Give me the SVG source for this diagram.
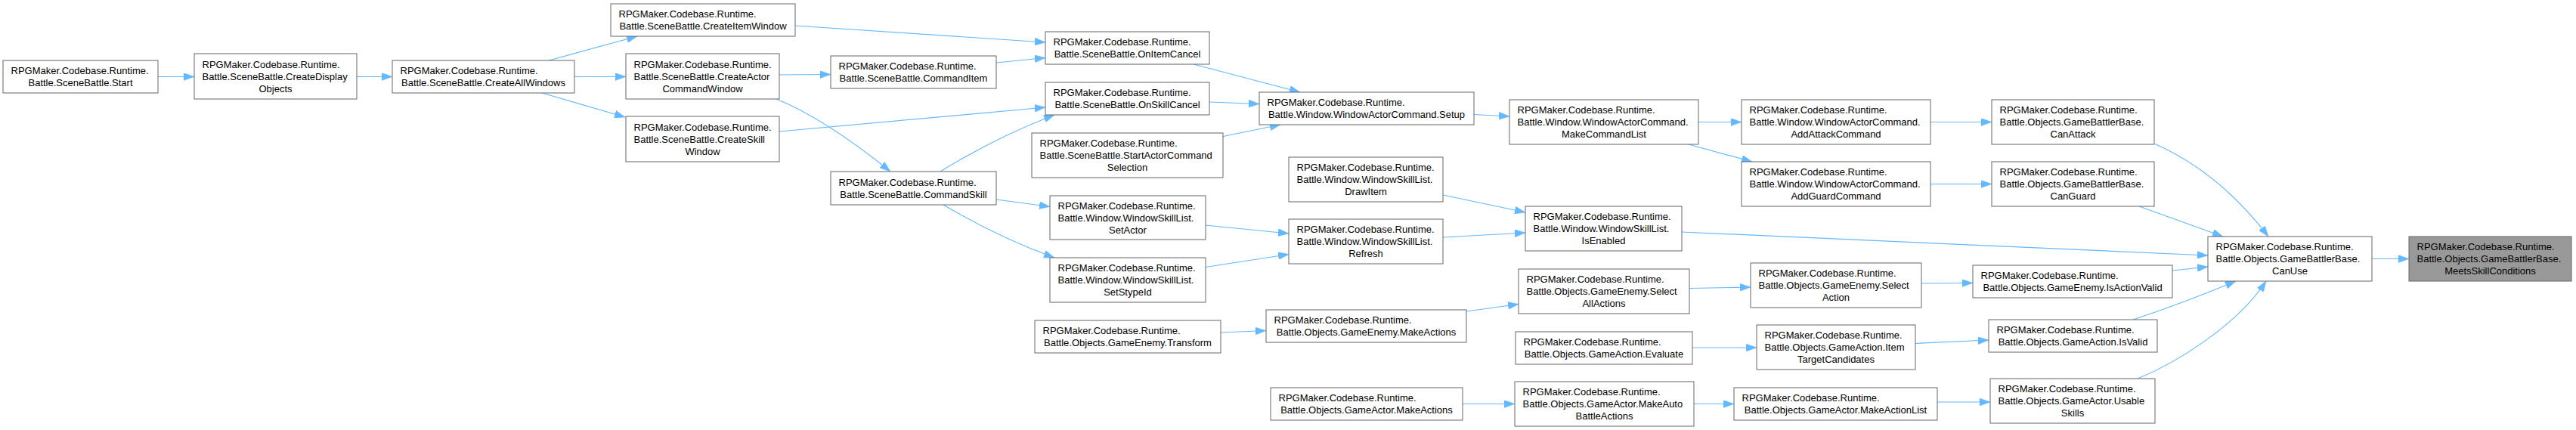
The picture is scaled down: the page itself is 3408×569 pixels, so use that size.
<svg xmlns="http://www.w3.org/2000/svg" width="3408" height="569" viewBox="0 0 3408 569">
<style>
.n rect{fill:#ffffff;stroke:#666666;stroke-width:1}
.hl rect{fill:#999999;stroke:#666666;stroke-width:1}
text{font-family:"Liberation Sans",Arial,sans-serif;font-size:13px;fill:#000000}
.c{text-anchor:middle}
.e path{fill:none;stroke:#63b8ff;stroke-width:1.2;marker-end:url(#a)}
</style>
<defs>
<marker id="a" markerUnits="userSpaceOnUse" markerWidth="14" markerHeight="10" refX="14" refY="5" orient="auto">
<path d="M0,0 L14,5 L0,10 z" fill="#63b8ff" stroke="#63b8ff" stroke-width="0.5"/>
</marker>
</defs>
<rect x="0" y="0" width="3408" height="569" fill="#ffffff"/>

<g class="e" id="edges">
<path d="M209,101.5 L257,101.5"/>
<path d="M472,101.5 L519,101.5"/>
<path d="M726,80 L843,48"/>
<path d="M760,101.5 L828,101.5"/>
<path d="M717,123 L827,155"/>
<path d="M1052,34 L1383,56"/>
<path d="M1031,99 L1099,98.5"/>
<path d="M1027,131 Q1091.5,157 1178,227"/>
<path d="M1031,174 L1383,142"/>
<path d="M1318,83 L1383,76.5"/>
<path d="M1244,227 Q1317,182 1395,152"/>
<path d="M1318,264 L1389,273.5"/>
<path d="M1248,271 Q1321,314 1395,341"/>
<path d="M1579,85 L1720,122"/>
<path d="M1600,135 L1666,137.5"/>
<path d="M1618,180.5 L1694,165"/>
<path d="M1950,151.5 L1997,154"/>
<path d="M2247,161.5 L2304,161.5"/>
<path d="M2234,191 L2318,214"/>
<path d="M2554,161.5 L2635,161.5"/>
<path d="M2554,243.5 L2635,243.5"/>
<path d="M2851,190.5 Q2936,228 3001,313"/>
<path d="M2830,273 L2941,313"/>
<path d="M1595,298 L1705,309"/>
<path d="M1595,353.5 L1705,336.5"/>
<path d="M1909,258 L2018,281"/>
<path d="M1909,314 L2018,308"/>
<path d="M2225,307 L2921,338"/>
<path d="M1615,440 L1675,437.5"/>
<path d="M1940,412 L2009,402.5"/>
<path d="M2235,381.5 L2316,380"/>
<path d="M2542,375 L2610,374.5"/>
<path d="M2874,358 L2921,353"/>
<path d="M2239,460 L2324,460"/>
<path d="M2534,454.5 L2631,450"/>
<path d="M2822,423 Q2886,402 2958,372"/>
<path d="M1935,534.5 L2004,534.5"/>
<path d="M2241,534.5 L2294,534.5"/>
<path d="M2563,532 L2633,532"/>
<path d="M2828,501 C2880,480 2960,430 2998,372"/>
<path d="M3138,342.5 L3187,342.5"/>
</g>

<g id="n_start" class="n"><rect x="4" y="80" width="205" height="43"/><text><tspan x="14.5" y="98">RPGMaker.Codebase.Runtime.</tspan><tspan class="c" x="106.5" y="114">Battle.SceneBattle.Start</tspan></text></g>
<g id="n_createdisplayobjects" class="n"><rect x="257" y="71" width="215" height="60"/><text><tspan x="267.5" y="89.5">RPGMaker.Codebase.Runtime.</tspan><tspan x="267.5" y="105.5">Battle.SceneBattle.CreateDisplay</tspan><tspan class="c" x="364.5" y="121.5">Objects</tspan></text></g>
<g id="n_createallwindows" class="n"><rect x="519" y="80" width="241" height="43"/><text><tspan x="529.5" y="98">RPGMaker.Codebase.Runtime.</tspan><tspan class="c" x="639.5" y="114">Battle.SceneBattle.CreateAllWindows</tspan></text></g>
<g id="n_createitemwindow" class="n"><rect x="808" y="5" width="244" height="43"/><text><tspan x="818.5" y="23">RPGMaker.Codebase.Runtime.</tspan><tspan class="c" x="930" y="39">Battle.SceneBattle.CreateItemWindow</tspan></text></g>
<g id="n_createactorcommandwindow" class="n"><rect x="828" y="71" width="203" height="60"/><text><tspan x="838.5" y="89.5">RPGMaker.Codebase.Runtime.</tspan><tspan x="838.5" y="105.5">Battle.SceneBattle.CreateActor</tspan><tspan class="c" x="929.5" y="121.5">CommandWindow</tspan></text></g>
<g id="n_createskillwindow" class="n"><rect x="828" y="154" width="203" height="60"/><text><tspan x="838.5" y="172.5">RPGMaker.Codebase.Runtime.</tspan><tspan x="838.5" y="188.5">Battle.SceneBattle.CreateSkill</tspan><tspan class="c" x="929.5" y="204.5">Window</tspan></text></g>
<g id="n_commanditem" class="n"><rect x="1099" y="74" width="219" height="43"/><text><tspan x="1109.5" y="92">RPGMaker.Codebase.Runtime.</tspan><tspan class="c" x="1208.5" y="108">Battle.SceneBattle.CommandItem</tspan></text></g>
<g id="n_commandskill" class="n"><rect x="1099" y="227" width="219" height="44"/><text><tspan x="1109.5" y="245.5">RPGMaker.Codebase.Runtime.</tspan><tspan class="c" x="1208.5" y="261.5">Battle.SceneBattle.CommandSkill</tspan></text></g>
<g id="n_onitemcancel" class="n"><rect x="1383" y="42" width="217" height="43"/><text><tspan x="1393.5" y="60">RPGMaker.Codebase.Runtime.</tspan><tspan class="c" x="1491.5" y="76">Battle.SceneBattle.OnItemCancel</tspan></text></g>
<g id="n_onskillcancel" class="n"><rect x="1383" y="109" width="217" height="43"/><text><tspan x="1393.5" y="127">RPGMaker.Codebase.Runtime.</tspan><tspan class="c" x="1491.5" y="143">Battle.SceneBattle.OnSkillCancel</tspan></text></g>
<g id="n_startactorcommandselection" class="n"><rect x="1365" y="176" width="253" height="59"/><text><tspan x="1375.5" y="194">RPGMaker.Codebase.Runtime.</tspan><tspan x="1375.5" y="210">Battle.SceneBattle.StartActorCommand</tspan><tspan class="c" x="1491.5" y="226">Selection</tspan></text></g>
<g id="n_setactor" class="n"><rect x="1389" y="259" width="206" height="58"/><text><tspan x="1399.5" y="276.5">RPGMaker.Codebase.Runtime.</tspan><tspan x="1399.5" y="292.5">Battle.Window.WindowSkillList.</tspan><tspan class="c" x="1492" y="308.5">SetActor</tspan></text></g>
<g id="n_setstypeid" class="n"><rect x="1389" y="341" width="206" height="59"/><text><tspan x="1399.5" y="359">RPGMaker.Codebase.Runtime.</tspan><tspan x="1399.5" y="375">Battle.Window.WindowSkillList.</tspan><tspan class="c" x="1492" y="391">SetStypeId</tspan></text></g>
<g id="n_setup" class="n"><rect x="1666" y="122" width="284" height="43"/><text><tspan x="1676.5" y="140">RPGMaker.Codebase.Runtime.</tspan><tspan class="c" x="1808" y="156">Battle.Window.WindowActorCommand.Setup</tspan></text></g>
<g id="n_makecommandlist" class="n"><rect x="1997" y="132" width="250" height="59"/><text><tspan x="2007.5" y="150">RPGMaker.Codebase.Runtime.</tspan><tspan x="2007.5" y="166">Battle.Window.WindowActorCommand.</tspan><tspan class="c" x="2122" y="182">MakeCommandList</tspan></text></g>
<g id="n_addattackcommand" class="n"><rect x="2304" y="132" width="250" height="59"/><text><tspan x="2314.5" y="150">RPGMaker.Codebase.Runtime.</tspan><tspan x="2314.5" y="166">Battle.Window.WindowActorCommand.</tspan><tspan class="c" x="2429" y="182">AddAttackCommand</tspan></text></g>
<g id="n_addguardcommand" class="n"><rect x="2304" y="214" width="250" height="59"/><text><tspan x="2314.5" y="232">RPGMaker.Codebase.Runtime.</tspan><tspan x="2314.5" y="248">Battle.Window.WindowActorCommand.</tspan><tspan class="c" x="2429" y="264">AddGuardCommand</tspan></text></g>
<g id="n_canattack" class="n"><rect x="2635" y="132" width="215" height="59"/><text><tspan x="2645.5" y="150">RPGMaker.Codebase.Runtime.</tspan><tspan x="2645.5" y="166">Battle.Objects.GameBattlerBase.</tspan><tspan class="c" x="2742.5" y="182">CanAttack</tspan></text></g>
<g id="n_canguard" class="n"><rect x="2635" y="214" width="215" height="59"/><text><tspan x="2645.5" y="232">RPGMaker.Codebase.Runtime.</tspan><tspan x="2645.5" y="248">Battle.Objects.GameBattlerBase.</tspan><tspan class="c" x="2742.5" y="264">CanGuard</tspan></text></g>
<g id="n_drawitem" class="n"><rect x="1705" y="208" width="204" height="59"/><text><tspan x="1715.5" y="226">RPGMaker.Codebase.Runtime.</tspan><tspan x="1715.5" y="242">Battle.Window.WindowSkillList.</tspan><tspan class="c" x="1807" y="258">DrawItem</tspan></text></g>
<g id="n_refresh" class="n"><rect x="1705" y="290" width="204" height="59"/><text><tspan x="1715.5" y="308">RPGMaker.Codebase.Runtime.</tspan><tspan x="1715.5" y="324">Battle.Window.WindowSkillList.</tspan><tspan class="c" x="1807" y="340">Refresh</tspan></text></g>
<g id="n_isenabled" class="n"><rect x="2018" y="273" width="207" height="59"/><text><tspan x="2028.5" y="291">RPGMaker.Codebase.Runtime.</tspan><tspan x="2028.5" y="307">Battle.Window.WindowSkillList.</tspan><tspan class="c" x="2121.5" y="323">IsEnabled</tspan></text></g>
<g id="n_selectallactions" class="n"><rect x="2009" y="356" width="226" height="59"/><text><tspan x="2019.5" y="374">RPGMaker.Codebase.Runtime.</tspan><tspan x="2019.5" y="390">Battle.Objects.GameEnemy.Select</tspan><tspan class="c" x="2122" y="406">AllActions</tspan></text></g>
<g id="n_transform" class="n"><rect x="1369" y="424" width="246" height="43"/><text><tspan x="1379.5" y="442">RPGMaker.Codebase.Runtime.</tspan><tspan class="c" x="1492" y="458">Battle.Objects.GameEnemy.Transform</tspan></text></g>
<g id="n_enemymakeactions" class="n"><rect x="1675" y="410" width="265" height="43"/><text><tspan x="1685.5" y="428">RPGMaker.Codebase.Runtime.</tspan><tspan class="c" x="1807.5" y="444">Battle.Objects.GameEnemy.MakeActions</tspan></text></g>
<g id="n_evaluate" class="n"><rect x="2005" y="439" width="234" height="43"/><text><tspan x="2015.5" y="457">RPGMaker.Codebase.Runtime.</tspan><tspan class="c" x="2122" y="473">Battle.Objects.GameAction.Evaluate</tspan></text></g>
<g id="n_actormakeactions" class="n"><rect x="1681" y="513" width="254" height="43"/><text><tspan x="1691.5" y="531">RPGMaker.Codebase.Runtime.</tspan><tspan class="c" x="1808" y="547">Battle.Objects.GameActor.MakeActions</tspan></text></g>
<g id="n_makeautobattleactions" class="n"><rect x="2004" y="505" width="237" height="59"/><text><tspan x="2014.5" y="523">RPGMaker.Codebase.Runtime.</tspan><tspan x="2014.5" y="539">Battle.Objects.GameActor.MakeAuto</tspan><tspan class="c" x="2122.5" y="555">BattleActions</tspan></text></g>
<g id="n_selectaction" class="n"><rect x="2316" y="348" width="226" height="59"/><text><tspan x="2326.5" y="366">RPGMaker.Codebase.Runtime.</tspan><tspan x="2326.5" y="382">Battle.Objects.GameEnemy.Select</tspan><tspan class="c" x="2429" y="398">Action</tspan></text></g>
<g id="n_itemtargetcandidates" class="n"><rect x="2324" y="430" width="210" height="59"/><text><tspan x="2334.5" y="448">RPGMaker.Codebase.Runtime.</tspan><tspan x="2334.5" y="464">Battle.Objects.GameAction.Item</tspan><tspan class="c" x="2429" y="480">TargetCandidates</tspan></text></g>
<g id="n_makeactionlist" class="n"><rect x="2294" y="513" width="269" height="43"/><text><tspan x="2304.5" y="531">RPGMaker.Codebase.Runtime.</tspan><tspan class="c" x="2428.5" y="547">Battle.Objects.GameActor.MakeActionList</tspan></text></g>
<g id="n_isactionvalid" class="n"><rect x="2610" y="351" width="264" height="43"/><text><tspan x="2620.5" y="369">RPGMaker.Codebase.Runtime.</tspan><tspan class="c" x="2742" y="385">Battle.Objects.GameEnemy.IsActionValid</tspan></text></g>
<g id="n_isvalid" class="n"><rect x="2631" y="423" width="223" height="43"/><text><tspan x="2641.5" y="441">RPGMaker.Codebase.Runtime.</tspan><tspan class="c" x="2742.5" y="457">Battle.Objects.GameAction.IsValid</tspan></text></g>
<g id="n_usableskills" class="n"><rect x="2633" y="501" width="218" height="59"/><text><tspan x="2643.5" y="519">RPGMaker.Codebase.Runtime.</tspan><tspan x="2643.5" y="535">Battle.Objects.GameActor.Usable</tspan><tspan class="c" x="2742" y="551">Skills</tspan></text></g>
<g id="n_canuse" class="n"><rect x="2921" y="313" width="217" height="59"/><text><tspan x="2931.5" y="331">RPGMaker.Codebase.Runtime.</tspan><tspan x="2931.5" y="347">Battle.Objects.GameBattlerBase.</tspan><tspan class="c" x="3029.5" y="363">CanUse</tspan></text></g>
<g id="n_meetsskillconditions" class="hl"><rect x="3187" y="313" width="215" height="59"/><text><tspan x="3197.5" y="331">RPGMaker.Codebase.Runtime.</tspan><tspan x="3197.5" y="347">Battle.Objects.GameBattlerBase.</tspan><tspan class="c" x="3294.5" y="363">MeetsSkillConditions</tspan></text></g>
</svg>
